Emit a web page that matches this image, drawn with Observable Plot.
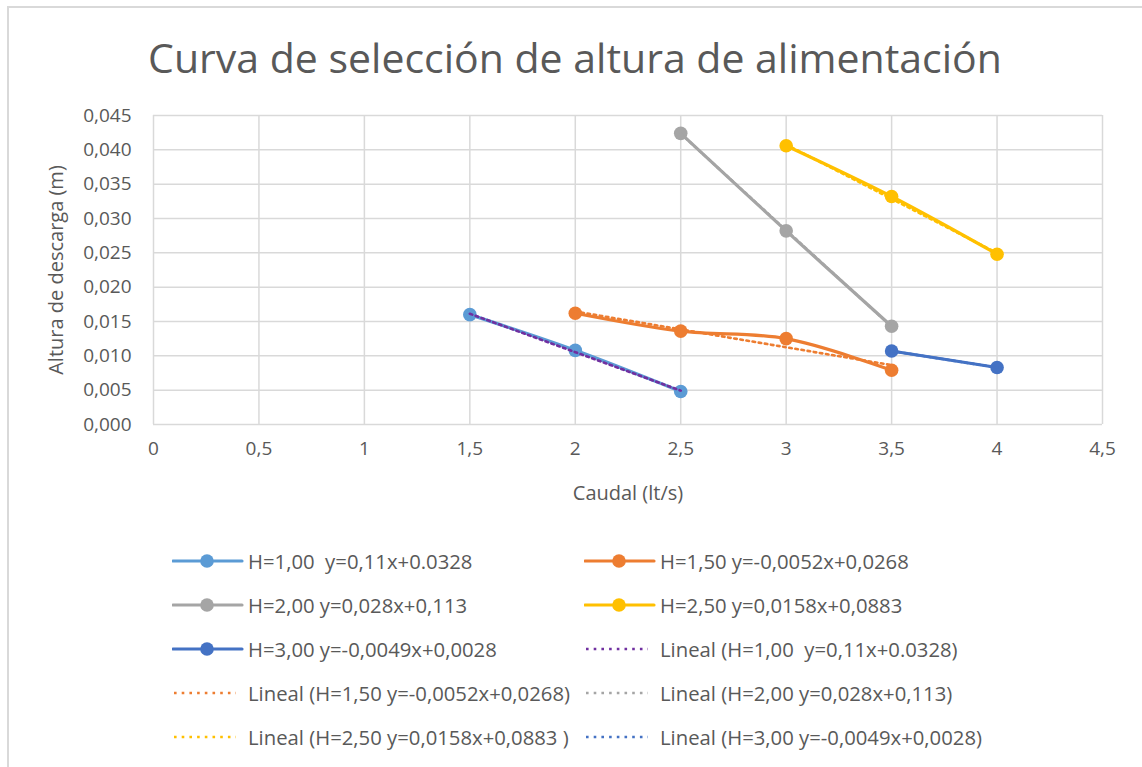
<!DOCTYPE html>
<html>
<head>
<meta charset="utf-8">
<script src="https://cdn.jsdelivr.net/npm/d3@7"></script>
<script src="https://cdn.jsdelivr.net/npm/@observablehq/plot@0.6"></script>
<style>
  html, body { margin: 0; padding: 0; background: #fff; }
  #wrap { position: relative; width: 1142px; height: 767px; overflow: hidden; font-family: "Open Sans", sans-serif; color: #595959; }
  #border { position: absolute; left: 7px; top: 6px; width: 1300px; height: 900px; border-top: 2px solid #D9D9D9; border-left: 2px solid #D9D9D9; }
  #title { position: absolute; left: 0; width: 1150px; top: 30px; text-align: center; font-size: 41px; line-height: 54px; color: #595959; }
  #chart { position: absolute; left: 0; top: 0; }
  .leg { position: absolute; display: flex; align-items: center; height: 30px; font-size: 20.3px; white-space: pre; color: #595959; }
  .leg svg { flex: none; }
</style>
</head>
<body>
<div id="wrap">
  <div id="border"></div>
  <div id="title">Curva de selección de altura de alimentación</div>
  <div id="chart"></div>
</div>
<script>
// ---- data ----
const seriesLabels = [
  "H=1,00  y=0,11x+0.0328",
  "H=1,50 y=-0,0052x+0,0268",
  "H=2,00 y=0,028x+0,113",
  "H=2,50 y=0,0158x+0,0883",
  "H=3,00 y=-0,0049x+0,0028"
];
const trendLabels = [
  "Lineal (H=1,00  y=0,11x+0.0328)",
  "Lineal (H=1,50 y=-0,0052x+0,0268)",
  "Lineal (H=2,00 y=0,028x+0,113)",
  "Lineal (H=2,50 y=0,0158x+0,0883 )",
  "Lineal (H=3,00 y=-0,0049x+0,0028)"
];
const caudalH100 = [1.5, 2.0, 2.5];
const alturaH100 = [0.0160, 0.0108, 0.0048];
const caudalH150 = [2.0, 2.5, 3.0, 3.5];
const alturaH150 = [0.0162, 0.0136, 0.0125, 0.0079];
const caudalH200 = [2.5, 3.0, 3.5];
const alturaH200 = [0.0424, 0.0282, 0.0143];
const caudalH250 = [3.0, 3.5, 4.0];
const alturaH250 = [0.0406, 0.0332, 0.0248];
const caudalH300 = [3.5, 4.0];
const alturaH300 = [0.0107, 0.0083];
const xTicks = [0, 0.5, 1, 1.5, 2, 2.5, 3, 3.5, 4, 4.5];
const yTicks = [0, 0.005, 0.010, 0.015, 0.020, 0.025, 0.030, 0.035, 0.040, 0.045];

const seriesColors = ["#5B9BD5", "#ED7D31", "#A5A5A5", "#FFC000", "#4472C4"];
const trendColors = ["#7030A0", "#ED7D31", "#A5A5A5", "#FFC000", "#4472C4"];

const xs = [caudalH100, caudalH150, caudalH200, caudalH250, caudalH300];
const ys = [alturaH100, alturaH150, alturaH200, alturaH250, alturaH300];
const series = xs.map((xv, i) => xv.map((x, j) => ({x, y: ys[i][j]})));

const fmtComma = d3.format(".3f");
const fmtX = d => String(d).replace(".", ",");
const fmtY = d => fmtComma(d).replace(".", ",");

const marks = [
  Plot.gridX(xTicks, {stroke: "#D9D9D9", strokeOpacity: 1, strokeWidth: 1.5}),
  Plot.gridY(yTicks, {stroke: "#D9D9D9", strokeOpacity: 1, strokeWidth: 1.5}),
  Plot.axisX(xTicks, {tickSize: 0, tickPadding: 17, tickFormat: fmtX, fontSize: 19, label: "Caudal (lt/s)", labelAnchor: "center", labelArrow: "none", labelOffset: 75}),
  Plot.axisY(yTicks, {tickSize: 0, tickPadding: 22, tickFormat: fmtY, fontSize: 19, label: "Altura de descarga (m)", labelAnchor: "center", labelArrow: "none", labelOffset: 105})
];
series.forEach((data, i) => {
  marks.push(Plot.line(data, {x: "x", y: "y", stroke: seriesColors[i], strokeWidth: 3.2, curve: "catmull-rom"}));
  marks.push(Plot.dot(data, {x: "x", y: "y", fill: seriesColors[i], r: 6.8}));
});
series.forEach((data, i) => {
  marks.push(Plot.linearRegressionY(data, {x: "x", y: "y", stroke: trendColors[i], strokeWidth: 2.6, strokeDasharray: "2.6,3.6", ci: 0}));
});

const plot = Plot.plot({
  width: 1142,
  height: 520,
  marginTop: 115,
  marginBottom: 96,
  marginLeft: 153,
  marginRight: 40,
  style: {fontFamily: "Open Sans, sans-serif", color: "#595959", background: "transparent", overflow: "visible"},
  x: {domain: [0, 4.5]},
  y: {domain: [0, 0.045]},
  marks
});
plot.querySelectorAll("g[aria-label='x-axis label'] text, g[aria-label='y-axis label'] text").forEach(t => t.setAttribute("font-size", "20px"));
document.getElementById("chart").appendChild(plot);

// ---- legend ----
const legendItems = [
  {label: seriesLabels[0], color: seriesColors[0], dot: true},
  {label: seriesLabels[1], color: seriesColors[1], dot: true},
  {label: seriesLabels[2], color: seriesColors[2], dot: true},
  {label: seriesLabels[3], color: seriesColors[3], dot: true},
  {label: seriesLabels[4], color: seriesColors[4], dot: true},
  {label: trendLabels[0], color: trendColors[0], dot: false},
  {label: trendLabels[1], color: trendColors[1], dot: false},
  {label: trendLabels[2], color: trendColors[2], dot: false},
  {label: trendLabels[3], color: trendColors[3], dot: false},
  {label: trendLabels[4], color: trendColors[4], dot: false}
];
const rowY = [561, 605, 649, 693, 737];
const colX = [172, 584];
const wrap = document.getElementById("wrap");
legendItems.forEach((it, k) => {
  const row = Math.floor(k / 2), col = k % 2;
  const div = document.createElement("div");
  div.className = "leg";
  div.style.left = colX[col] + "px";
  div.style.top = (rowY[row] - 15) + "px";
  const sw = it.dot
    ? `<svg width="76" height="20"><line x1="1" y1="10" x2="70" y2="10" stroke="${it.color}" stroke-width="3.2" stroke-linecap="round"/><circle cx="35" cy="10" r="6.8" fill="${it.color}"/></svg>`
    : `<svg width="76" height="20"><line x1="2" y1="10" x2="64" y2="10" stroke="${it.color}" stroke-width="2.6" stroke-dasharray="2.6,5.1"/></svg>`;
  div.innerHTML = sw + `<span>${it.label}</span>`;
  wrap.appendChild(div);
});
</script>
</body>
</html>
